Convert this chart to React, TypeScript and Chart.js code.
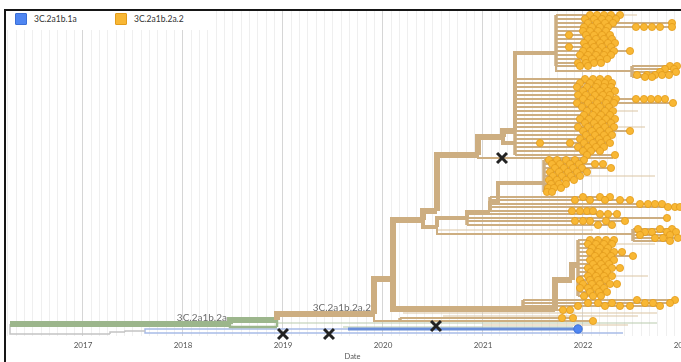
import { useEffect, useRef } from 'react';
import { Chart, registerables } from 'chart.js';

Chart.register(...registerables);
Chart.defaults.font.family = 'Lato';

// ---------- axis / legend ----------
const yearTicks = [2017, 2018, 2019, 2020, 2021, 2022, 2023];
const legendLabels = ['3C.2a1b.1a', '3C.2a1b.2a.2'];
const legendColors = ['#4F86F2', '#F8B734'];
const legendBorders = ['#3B6FD6', '#E39C1B'];

// ---------- branches: [startDate, endDate, parentRow, row] ----------
const grayBranches = [
  [2016.27, 2017.27, 313, 323],
  [2017.27, 2017.42, 323, 321],
  [2017.42, 2017.62, 321, 320],
];
const greenThickBranches = [
  [2016.27, 2018.47, 313, 313],
  [2018.47, 2018.94, 313, 309],
];
const greenThinBranches = [
  [2018.47, 2018.94, 313, 316],
  [2018.94, 2018.94, 316, 309],
];
const blueThinBranches = [
  [2017.62, 2019.65, 320, 318],
  [2017.62, 2022.40, 320, 322],
];
const blueThickBranches = [[2019.65, 2021.95, 318, 318]];
const tanThickBranches = [
  [2018.94, 2019.91, 309, 303],
  [2019.91, 2020.10, 303, 268],
  [2020.10, 2020.40, 268, 209],
  [2020.40, 2020.54, 209, 200],
  [2020.54, 2020.95, 200, 144],
  [2020.95, 2021.20, 144, 126],
  [2021.20, 2021.32, 126, 120],
  [2020.10, 2021.72, 268, 298],
  [2021.72, 2021.89, 298, 269],
  [2021.89, 2021.95, 269, 254],
];
const tanMidBranches = [
  [2020.40, 2020.54, 209, 216],
  [2021.20, 2021.32, 126, 132],
  [2021.32, 2021.73, 120, 42],
  [2020.54, 2020.84, 216, 207],
  [2020.84, 2021.07, 207, 201],
  [2021.07, 2021.15, 201, 192],
  [2021.15, 2021.61, 192, 172],
];
const tanThinBranches = [
  [2021.73, 2022.49, 55, 60],
  [2020.95, 2022.30, 144, 147],
  [2020.54, 2022.50, 216, 223],
  [2019.91, 2020.17, 303, 310],
];

// ---------- bare tip lines (no dot): [startDate, endDate, row] ----------
const bareTanLines = [
  [2020.20, 2022.74, 302],
  [2020.60, 2022.55, 305],
  [2021.00, 2022.45, 314],
  [2021.73, 2022.54, 4],
  [2021.32, 2022.62, 116],
  [2021.32, 2022.55, 100],
  [2021.61, 2022.72, 165],
  [2021.95, 2022.72, 233],
  [2021.95, 2022.65, 265],
  [2020.54, 2022.10, 219],
];
const bareGreenLines = [
  [2018.94, 2022.74, 312],
  [2019.60, 2021.90, 316],
];

// ---------- tip clusters: [row, tip dates] ----------
const clusterA: [number, number[]][] = [
  [4, [2022.07, 2022.14, 2022.21, 2022.28, 2022.37]],
  [8, [2022.02, 2022.11, 2022.19, 2022.26, 2022.33]],
  [12, [2022.05, 2022.14, 2022.22, 2022.30, 2022.89]],
  [16, [2022.01, 2022.09, 2022.17, 2022.25, 2022.53, 2022.61, 2022.69, 2022.77, 2022.89]],
  [20, [2022.00, 2022.07, 2022.15, 2022.23]],
  [24, [2021.86, 2022.03, 2022.11, 2022.19, 2022.27]],
  [28, [2022.05, 2022.13, 2022.21, 2022.29]],
  [32, [2022.01, 2022.09, 2022.17, 2022.25, 2022.32]],
  [36, [2021.86, 2022.03, 2022.11, 2022.19, 2022.28]],
  [40, [2022.00, 2022.07, 2022.15, 2022.23, 2022.31, 2022.47]],
  [44, [2021.97, 2022.05, 2022.13, 2022.21, 2022.28]],
  [48, [2022.02, 2022.09, 2022.17, 2022.24]],
  [52, [2021.95, 2022.03, 2022.11, 2022.18]],
  [55, [2021.97, 2022.05]],
];
const clusterB: [number, number[]][] = [
  [55, [2022.87, 2022.94]],
  [58, [2022.82, 2022.91]],
  [61, [2022.77, 2022.93]],
  [64, [2022.54, 2022.64, 2022.72, 2022.79, 2022.86]],
  [66, [2022.62, 2022.69]],
];
const clusterC: [number, number[]][] = [
  [68, [2022.02, 2022.10, 2022.17, 2022.25]],
  [72, [2021.97, 2022.07, 2022.15, 2022.22, 2022.29]],
  [76, [2021.94, 2022.04, 2022.13, 2022.21, 2022.28]],
  [80, [2022.00, 2022.09, 2022.17, 2022.25, 2022.32]],
  [84, [2021.95, 2022.03, 2022.12, 2022.20, 2022.27]],
  [88, [2022.00, 2022.08, 2022.17, 2022.25, 2022.33, 2022.53, 2022.61, 2022.68, 2022.75, 2022.82]],
  [92, [2021.94, 2022.05, 2022.14, 2022.23, 2022.31, 2022.90]],
  [96, [2021.99, 2022.09, 2022.17, 2022.26]],
  [100, [2022.04, 2022.13, 2022.22, 2022.30]],
  [104, [2022.01, 2022.10, 2022.18, 2022.27]],
  [108, [2021.97, 2022.06, 2022.15, 2022.23, 2022.32]],
  [112, [2022.02, 2022.11, 2022.19, 2022.28]],
  [116, [2021.95, 2022.05, 2022.14, 2022.22, 2022.31]],
  [120, [2022.00, 2022.09, 2022.17, 2022.26, 2022.47]],
  [124, [2022.03, 2022.12, 2022.21, 2022.29]],
  [128, [2021.97, 2022.07, 2022.16, 2022.24]],
  [132, [2021.57, 2021.87, 2022.01, 2022.10, 2022.18, 2022.27]],
  [136, [2021.95, 2022.05, 2022.13, 2022.21]],
  [140, [2022.00, 2022.08, 2022.17]],
  [144, [2022.04, 2022.32]],
];
const clusterD: [number, number[]][] = [
  [149, [2021.66, 2021.74, 2021.83, 2021.92, 2022.01]],
  [153, [2021.69, 2021.77, 2021.87, 2021.96, 2022.12, 2022.20]],
  [157, [2021.72, 2021.81, 2021.90, 2021.99, 2022.28]],
  [161, [2021.67, 2021.76, 2021.85, 2021.94, 2022.04]],
  [165, [2021.70, 2021.79, 2021.88, 2021.97]],
  [169, [2021.66, 2021.74, 2021.83, 2021.91]],
  [173, [2021.68, 2021.76, 2021.83]],
  [177, [2021.65, 2021.71, 2021.78]],
  [181, [2021.64, 2021.69]],
];
const clusterE1: [number, number[]][] = [
  [186, [2022.00, 2022.17, 2022.27]],
  [189, [2021.92, 2022.07, 2022.22, 2022.37, 2022.47]],
  [193, [2022.57, 2022.65, 2022.72, 2022.79]],
  [196, [2022.85, 2022.92, 2022.97]],
];
const clusterE2: [number, number[]][] = [
  [200, [2021.89, 2021.97, 2022.04, 2022.10]],
  [203, [2022.17, 2022.25, 2022.34]],
  [207, [2022.84]],
  [210, [2021.92, 2022.00, 2022.07, 2022.23, 2022.42]],
  [214, [2022.15, 2022.29]],
];
const clusterE3: [number, number[]][] = [
  [218, [2022.55, 2022.77, 2022.89]],
  [221, [2022.62, 2022.69, 2022.84, 2022.93]],
  [224, [2022.57, 2022.87]],
  [227, [2022.72, 2022.80, 2022.95]],
  [230, [2022.87]],
];
const clusterF: [number, number[]][] = [
  [229, [2022.07, 2022.15, 2022.23, 2022.31]],
  [233, [2022.05, 2022.13, 2022.21, 2022.29]],
  [237, [2022.09, 2022.17, 2022.25]],
  [241, [2022.07, 2022.15, 2022.23, 2022.31, 2022.39]],
  [245, [2022.12, 2022.20, 2022.28, 2022.50]],
  [249, [2022.07, 2022.15, 2022.23, 2022.31]],
  [253, [2022.10, 2022.18, 2022.26]],
  [257, [2022.05, 2022.13, 2022.21, 2022.29, 2022.37]],
  [261, [2022.08, 2022.16, 2022.24]],
  [265, [2022.05, 2022.13, 2022.21, 2022.29]],
  [269, [2021.97, 2022.07, 2022.15, 2022.23]],
  [273, [2022.00, 2022.09, 2022.17, 2022.27, 2022.34]],
  [277, [2021.97, 2022.05, 2022.13, 2022.21]],
  [281, [2022.07, 2022.16, 2022.24]],
  [285, [2022.01, 2022.10, 2022.18]],
];
const clusterG: [number, number[]][] = [
  [289, [2022.54, 2022.92]],
  [292, [2022.05, 2022.15, 2022.29, 2022.62, 2022.70, 2022.87]],
  [295, [2021.95, 2022.22, 2022.37, 2022.47, 2022.77]],
  [299, [2021.80, 2021.87]],
];
const clusterH: [number, number[]][] = [
  [307, [2021.79, 2021.90]],
  [310, [2022.10]],
];
const clusters = [clusterA, clusterB, clusterC, clusterD, clusterE1, clusterE2, clusterE3, clusterF, clusterG, clusterH];
const clusterRoots = [2021.73, 2022.49, 2021.32, 2021.61, 2021.07, 2020.84, 2022.50, 2021.95, 2021.40, 2020.17];
const clusterLinkRows = [42, 60, 120, 172, 201, 207, 223, 254, 298, 310];

const blueTipDates = [2021.95];
const blueTipRows = [318];

const markerDates = [2019.0, 2019.46, 2020.53, 2021.19];
const markerRows = [323, 323, 315, 147];

const cladeLabels = ['3C.2a1b.2a', '3C.2a1b.2a.2'];
const cladeLabelDates = [2018.47, 2019.91];
const cladeLabelRows = [313, 303];

// ---------- colours ----------
const TAN = '#CDAE81';
const TAN_LIGHT = '#DCC6A4';
const GREEN = '#9CB68C';
const GRAY = '#C4C4C4';
const BLUE = '#6A8FDA';
const BLUE_LIGHT = '#A8BCE8';

type Pt = { x: number; y: number | null };

function elbowPath(branches: number[][]): Pt[] {
  const out: Pt[] = [];
  for (const [s, e, p, r] of branches) {
    out.push({ x: s, y: p }, { x: s, y: r }, { x: e, y: r }, { x: e, y: null });
  }
  return out;
}
function barePath(lines: number[][]): Pt[] {
  const out: Pt[] = [];
  for (const [s, e, r] of lines) {
    out.push({ x: s, y: r }, { x: e, y: r }, { x: e, y: null });
  }
  return out;
}

function buildClusterData() {
  const tipLines: Pt[] = [];
  const verticals: Pt[] = [];
  const dots: Pt[] = [];
  clusters.forEach((cl, i) => {
    const root = clusterRoots[i];
    const rows = cl.map((c) => c[0]).concat([clusterLinkRows[i]]);
    verticals.push({ x: root, y: Math.min(...rows) }, { x: root, y: Math.max(...rows) }, { x: root, y: null });
    cl.forEach(([row, dates]) => {
      tipLines.push({ x: root, y: row }, { x: Math.max(...dates), y: row }, { x: root, y: null });
      dates.forEach((d) => dots.push({ x: d, y: row }));
    });
  });
  return { tipLines, verticals, dots };
}

const isYear = (v: number) => Math.abs(v - Math.round(v)) < 1e-6;

export default function App() {
  const ref = useRef<HTMLCanvasElement | null>(null);

  useEffect(() => {
    if (!ref.current) return;
    const { tipLines, verticals, dots } = buildClusterData();

    const lineDs = (label: string, data: Pt[], color: string, width: number, order: number) => ({
      type: 'line' as const,
      label,
      data,
      borderColor: color,
      borderWidth: width,
      pointRadius: 0,
      pointHoverRadius: 0,
      fill: false,
      tension: 0,
      spanGaps: false,
      borderCapStyle: 'butt' as const,
      borderJoinStyle: 'miter' as const,
      order,
    });

    const monthTicks: number[] = [];
    for (let y = yearTicks[0] - 1; y <= yearTicks[yearTicks.length - 1]; y++) {
      for (let m = 0; m < 12; m++) {
        const v = y + m / 12;
        if (v >= 2016.22 && v <= 2023.17) monthTicks.push(m === 0 ? y : v);
      }
    }

    const labelPlugin = {
      id: 'cladeLabels',
      afterDatasetsDraw(chart: any) {
        const { ctx, scales } = chart;
        ctx.save();
        ctx.font = '10px Lato';
        ctx.fillStyle = '#6c6c6c';
        ctx.textAlign = 'right';
        ctx.textBaseline = 'alphabetic';
        cladeLabels.forEach((t, i) => {
          const x = scales.x.getPixelForValue(cladeLabelDates[i]) - 3;
          const y = scales.y.getPixelForValue(cladeLabelRows[i]) - 3;
          ctx.fillText(t, x, y);
        });
        ctx.restore();
      },
    };

    const chart = new Chart(ref.current, {
      type: 'line',
      data: {
        datasets: [
          {
            type: 'scatter',
            label: 'markers',
            data: markerDates.map((d, i) => ({ x: d, y: markerRows[i] })),
            pointStyle: 'crossRot',
            pointRadius: 7,
            pointBorderWidth: 3,
            borderColor: '#222',
            backgroundColor: '#222',
            showLine: false,
            clip: false,
            order: 0,
          } as any,
          {
            type: 'scatter',
            label: legendLabels[0],
            data: blueTipDates.map((d, i) => ({ x: d, y: blueTipRows[i] })),
            pointRadius: 4.2,
            pointBorderWidth: 1,
            backgroundColor: legendColors[0],
            borderColor: legendBorders[0],
            showLine: false,
            clip: false,
            order: 1,
          } as any,
          {
            type: 'scatter',
            label: legendLabels[1],
            data: dots,
            pointRadius: 3.6,
            pointBorderWidth: 0.8,
            backgroundColor: legendColors[1],
            borderColor: legendBorders[1],
            showLine: false,
            clip: false,
            order: 2,
          } as any,
          lineDs('tanThick', elbowPath(tanThickBranches), TAN, 6, 5),
          lineDs('greenThick', elbowPath(greenThickBranches), GREEN, 6, 5),
          lineDs('blueThick', elbowPath(blueThickBranches), BLUE, 3, 5),
          lineDs('tanMid', elbowPath(tanMidBranches), TAN, 4, 6),
          lineDs('clusterVerticals', verticals, TAN, 3.5, 7),
          lineDs('tanThin', elbowPath(tanThinBranches), TAN, 2, 8),
          lineDs('tipLines', tipLines, TAN, 2, 8),
          lineDs('greenThin', elbowPath(greenThinBranches), GREEN, 2.5, 9),
          lineDs('gray', elbowPath(grayBranches), GRAY, 1.5, 9),
          lineDs('blueThin', elbowPath(blueThinBranches), BLUE_LIGHT, 1.5, 9),
          lineDs('bareTan', barePath(bareTanLines), TAN_LIGHT, 1.2, 10),
          lineDs('bareGreen', barePath(bareGreenLines), '#B9CBAE', 1.2, 10),
        ] as any,
      },
      options: {
        animation: false,
        responsive: false,
        events: [],
        layout: { autoPadding: false, padding: { left: 5, right: 0, top: 11, bottom: 1 } },
        plugins: { legend: { display: false }, tooltip: { enabled: false } },
        scales: {
          x: {
            type: 'linear',
            min: 2016.22,
            max: 2023.17,
            afterBuildTicks: (scale: any) => {
              scale.ticks = monthTicks.map((v) => ({ value: v }));
            },
            afterFit: (scale: any) => {
              scale.paddingLeft = 0;
              scale.paddingRight = 0;
              scale.height = 25;
            },
            ticks: {
              autoSkip: false,
              maxRotation: 0,
              padding: 5,
              color: '#555',
              font: { family: 'Lato', size: 8 },
              callback: (v: any) => (isYear(Number(v)) ? String(Math.round(Number(v))) : ''),
            },
            grid: {
              drawTicks: false,
              lineWidth: 1,
              color: (ctx: any) => (ctx.tick && isYear(ctx.tick.value) ? '#d6d6d6' : '#efefef'),
            },
            border: { display: false },
            title: {
              display: true,
              text: 'Date',
              color: '#555',
              font: { family: 'Lato', size: 7.5 },
              padding: { top: 0, bottom: 0 },
            },
          },
          y: { type: 'linear', display: false, min: 0, max: 325, reverse: true },
        },
      } as any,
      plugins: [labelPlugin],
    });
    return () => chart.destroy();
  }, []);

  return (
    <div style={{ position: 'fixed', left: 0, top: 0, width: 681, height: 362, overflow: 'hidden', background: '#fff' }}>
      <canvas ref={ref} width={700} height={362} style={{ position: 'absolute', left: 0, top: 0 }} />
      <div
        style={{
          position: 'absolute',
          left: 4,
          top: 9,
          right: -10,
          bottom: -10,
          borderTop: '2px solid #161616',
          borderLeft: '2px solid #161616',
          pointerEvents: 'none',
        }}
      />
      <div
        style={{
          position: 'absolute',
          left: 6,
          top: 11,
          width: 207,
          height: 19,
          background: '#fff',
          fontFamily: 'Lato',
          fontSize: 8.5,
          color: '#333',
        }}
      >
        {legendLabels.map((t, i) => (
          <div key={t} style={{ position: 'absolute', left: 9 + i * 100, top: 2, height: 12, display: 'flex', alignItems: 'center' }}>
            <span
              style={{
                display: 'inline-block',
                width: 10,
                height: 10,
                background: legendColors[i],
                border: `1px solid ${legendBorders[i]}`,
                borderRadius: 1,
              }}
            />
            <span style={{ marginLeft: 7, lineHeight: '12px' }}>{t}</span>
          </div>
        ))}
      </div>
    </div>
  );
}
